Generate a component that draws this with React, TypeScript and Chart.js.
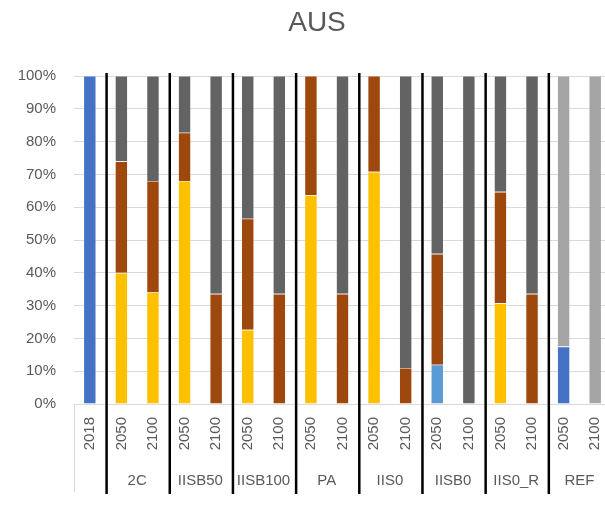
import React, { useEffect, useRef } from "react";
import { Chart, registerables } from "chart.js";

Chart.register(...registerables);

const titleText = "AUS";
const yearLabels = ["2018", "2050", "2100", "2050", "2100", "2050", "2100", "2050", "2100", "2050", "2100", "2050", "2100", "2050", "2100", "2050", "2100"];
const groupNames = ["", "2C", "IISB50", "IISB100", "PA", "IIS0", "IISB0", "IIS0_R", "REF"];
const groupSpans = [1, 2, 2, 2, 2, 2, 2, 2, 2];

const seriesBlue = [100, 0, 0, 0, 0, 0, 0, 0, 0, 0, 0, 0, 0, 0, 0, 17.5, 0];
const seriesLightBlue = [0, 0, 0, 0, 0, 0, 0, 0, 0, 0, 0, 12, 0, 0, 0, 0, 0];
const seriesYellow = [0, 40, 34, 68, 0, 22.6, 0, 63.7, 0, 70.8, 0, 0, 0, 30.7, 0, 0, 0];
const seriesBrown = [0, 34, 34, 14.7, 33.6, 33.9, 33.6, 36.3, 33.6, 29.2, 11, 33.8, 0, 34, 33.6, 0, 0];
const seriesDarkGray = [0, 26, 32, 17.3, 66.4, 43.5, 66.4, 0, 66.4, 0, 89, 54.2, 100, 35.3, 66.4, 0, 0];
const seriesLightGray = [0, 0, 0, 0, 0, 0, 0, 0, 0, 0, 0, 0, 0, 0, 0, 82.5, 100];

const yTicks = [0, 10, 20, 30, 40, 50, 60, 70, 80, 90, 100];

const FONT = "'Liberation Sans', Arial, sans-serif";
const TEXT = "#595959";

function groupCenters(): number[] {
  const out: number[] = [];
  let idx = 0;
  for (const s of groupSpans) {
    out.push(idx + (s - 1) / 2);
    idx += s;
  }
  return out;
}

const titlePlugin = {
  id: "centerTitle",
  afterDraw(chart: any) {
    const { ctx } = chart;
    ctx.save();
    ctx.fillStyle = TEXT;
    ctx.font = `28px ${FONT}`;
    ctx.textAlign = "center";
    ctx.textBaseline = "alphabetic";
    ctx.fillText(titleText, chart.width / 2, 31);
    ctx.restore();
  },
};

const separatorPlugin = {
  id: "separators",
  afterDraw(chart: any) {
    const { ctx, chartArea, scales } = chart;
    const x = scales.x;
    const n = yearLabels.length;
    const step = (chartArea.right - chartArea.left) / n;
    const bounds: number[] = [];
    let idx = 0;
    for (const s of groupSpans) {
      bounds.push(x.getPixelForValue(idx) - step / 2);
      idx += s;
    }
    ctx.save();
    ctx.strokeStyle = "#d9d9d9";
    ctx.lineWidth = 1;
    for (const b of bounds) {
      ctx.beginPath();
      ctx.moveTo(Math.round(b) + 0.5, chartArea.bottom);
      ctx.lineTo(Math.round(b) + 0.5, chartArea.bottom + 88);
      ctx.stroke();
    }
    ctx.strokeStyle = "#000000";
    ctx.lineWidth = 2.5;
    for (let i = 1; i < bounds.length; i++) {
      const b = bounds[i] + 1;
      ctx.beginPath();
      ctx.moveTo(b, chartArea.top - 3);
      ctx.lineTo(b, chartArea.bottom + 90);
      ctx.stroke();
    }
    ctx.restore();
  },
};

export default function App() {
  const ref = useRef<HTMLCanvasElement>(null);

  useEffect(() => {
    if (!ref.current) return;
    const centers = groupCenters();
    const mk = (label: string, data: number[], color: string) => ({
      label,
      data,
      backgroundColor: color,
      borderColor: "rgba(255,255,255,0.35)",
      borderWidth: 0.6,
      barPercentage: 0.4,
      categoryPercentage: 1,
    });
    const chart = new Chart(ref.current, {
      type: "bar",
      data: {
        labels: yearLabels,
        datasets: [
          mk("A", seriesBlue, "#4472C4"),
          mk("B", seriesLightBlue, "#5B9BD5"),
          mk("C", seriesYellow, "#FFC000"),
          mk("D", seriesBrown, "#9E480E"),
          mk("E", seriesDarkGray, "#636363"),
          mk("F", seriesLightGray, "#A5A5A5"),
        ],
      },
      options: {
        responsive: false,
        animation: false,
        devicePixelRatio: 1,
        layout: { padding: { left: 0, right: 23, top: 76, bottom: 6 } },
        plugins: {
          legend: { display: false },
          tooltip: { enabled: false },
          title: { display: false },
        },
        scales: {
          x: {
            type: "category",
            stacked: true,
            offset: true,
            grid: { display: false, drawTicks: false },
            border: { display: false },
            ticks: {
              minRotation: 90,
              maxRotation: 90,
              autoSkip: false,
              padding: 13,
              color: TEXT,
              font: { family: FONT, size: 15 },
            },
            afterFit: (s: any) => {
              s.height = 62;
            },
          },
          x2: {
            type: "linear",
            position: "bottom",
            offset: false,
            min: -0.5,
            max: yearLabels.length - 0.5,
            grid: { display: false, drawTicks: false, offset: false },
            border: { display: false },
            afterBuildTicks: (s: any) => {
              s.ticks = centers.map((v) => ({ value: v }));
            },
            ticks: {
              autoSkip: false,
              maxRotation: 0,
              minRotation: 0,
              padding: 6,
              color: TEXT,
              font: { family: FONT, size: 15 },
              callback: (v: any) => {
                const i = centers.indexOf(Number(v));
                return i >= 0 ? groupNames[i] : "";
              },
            },
            afterFit: (s: any) => {
              s.height = 34;
            },
          },
          y: {
            stacked: true,
            min: 0,
            max: 100,
            grid: { color: "#d9d9d9", lineWidth: 1, drawTicks: false },
            border: { display: false },
            afterBuildTicks: (s: any) => {
              s.ticks = yTicks.map((v) => ({ value: v }));
            },
            ticks: {
              padding: 18,
              color: TEXT,
              font: { family: FONT, size: 15 },
              callback: (v: any) => v + "%",
            },
            afterFit: (s: any) => {
              s.width = 74;
            },
          },
        },
      },
      plugins: [separatorPlugin, titlePlugin],
    });
    return () => chart.destroy();
  }, []);

  return (
    <div style={{ position: "fixed", left: 0, top: 0, width: 605, height: 506, overflow: "hidden", background: "#fff" }}>
      <canvas ref={ref} width={634} height={506} style={{ width: 634, height: 506, display: "block" }} />
    </div>
  );
}
